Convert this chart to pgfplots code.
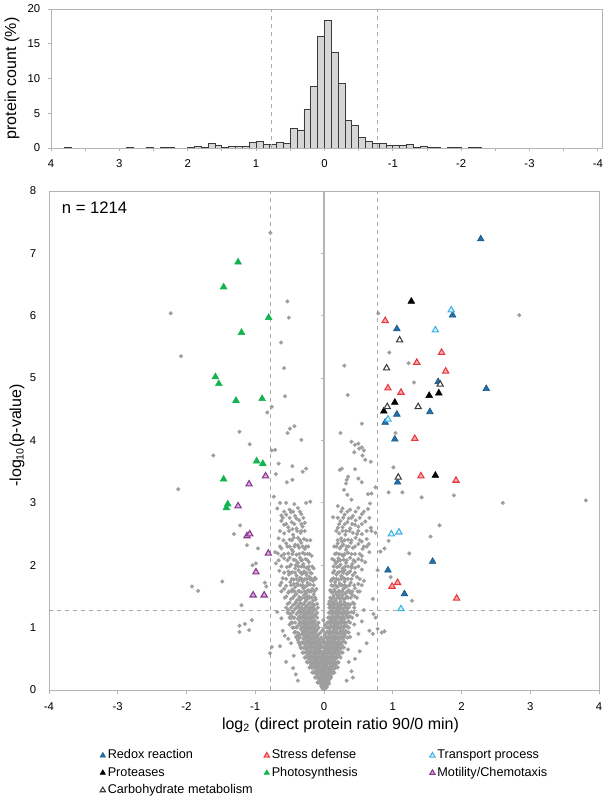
\documentclass[border=0pt]{standalone}
\usepackage{pgfplots}
\pgfplotsset{compat=1.18}
\usepackage{fontspec}
\setmainfont{Liberation Sans}
\definecolor{boxgray}{HTML}{B4B4B4}
\definecolor{dashgray}{HTML}{A8A8A8}
\definecolor{dotgray}{HTML}{9E9E9E}
\definecolor{barfill}{HTML}{D6D6D6}
\definecolor{baredge}{HTML}{3A3A3A}
\definecolor{redox}{HTML}{2171AD}
\definecolor{redoxE}{HTML}{15527F}
\definecolor{stressE}{HTML}{E8373D}
\definecolor{stressF}{HTML}{F7B0B0}
\definecolor{transE}{HTML}{3AB2E6}
\definecolor{transF}{HTML}{E3F4FC}
\definecolor{photo}{HTML}{12B44E}
\definecolor{motE}{HTML}{85398F}
\definecolor{motF}{HTML}{DDA9DF}
\definecolor{carbE}{HTML}{3C3C3C}
\begin{document}
\begin{tikzpicture}
\path[use as bounding box] (0pt,0pt) rectangle (457.5pt,602.25pt);
% ---------------- top histogram ----------------
\begin{axis}[
  at={(38.25pt,491.25pt)}, anchor=south west,
  scale only axis, width=413.25pt, height=104.25pt,
  x dir=reverse, xmin=-4.06, xmax=4, ymin=0, ymax=20,
  xtick={-4,...,4}, minor xtick={-3.5,-2.5,...,3.5},
  ytick={0,5,...,20},
  xtick pos=bottom, ytick pos=left, tick align=outside,
  major tick length=2.5pt, minor tick length=2.5pt,
  tick style={boxgray, line width=0.6pt},
  axis line style={boxgray, line width=0.6pt},
  ticklabel style={font=\fontsize{8.5}{10}\selectfont},
  xticklabel style={yshift=-3pt},
  yticklabel style={xshift=-2pt},
  /pgf/number format/assume math mode=true,
  ylabel={protein count (\%)},
  ylabel style={font=\fontsize{12}{14}\selectfont, at={(axis description cs:-0.071,0.5)}, anchor=center},
]
\addplot[ybar, bar width=0.1, fill=barfill, draw=baredge, line width=0.6pt] coordinates {
(3.75,0.1) (2.85,0.1) (2.55,0.1) (2.35,0.1) (2.25,0.1) (1.95,0.1) (1.85,0.2) (1.75,0.1)
(1.65,0.6) (1.55,0.35) (1.45,0.1) (1.35,0.25) (1.25,0.25) (1.15,0.2) (1.05,0.8) (0.95,0.9)
(0.85,0.5) (0.75,0.5) (0.65,0.8) (0.55,0.7) (0.45,2.8) (0.35,2.6) (0.25,5.5) (0.15,8.8)
(0.05,16.1) (-0.05,18.3) (-0.15,13.7) (-0.25,9.3) (-0.35,4.0) (-0.45,3.2) (-0.55,1.5)
(-0.65,0.9) (-0.75,0.7) (-0.85,0.6) (-0.95,0.4) (-1.05,0.4) (-1.15,0.4) (-1.25,0.5)
(-1.35,0.1) (-1.45,0.3) (-1.55,0.1) (-1.65,0.1) (-1.85,0.1) (-1.95,0.1) (-2.15,0.1) (-2.25,0.1)
};
\addplot[dashgray, dashed, line width=0.5pt] coordinates {(0.78,0) (0.78,20)};
\addplot[dashgray, dashed, line width=0.5pt] coordinates {(-0.78,0) (-0.78,20)};
\end{axis}
% ---------------- volcano plot ----------------
\begin{axis}[
  at={(36.75pt,84.75pt)}, anchor=south west,
  scale only axis, width=412.5pt, height=374.25pt,
  xmin=-4, xmax=4, ymin=0, ymax=8,
  xtick={-4,...,4}, ytick={0,...,8},
  xtick pos=bottom, ytick pos=left, tick align=outside,
  major tick length=3pt,
  x tick style={boxgray, line width=0.6pt},
  y tick style={draw=none},
  axis line style={boxgray, line width=0.6pt},
  ticklabel style={font=\fontsize{8.5}{10}\selectfont},
  xticklabel style={yshift=-3pt},
  yticklabel style={xshift=-3pt},
  /pgf/number format/assume math mode=true,
  xlabel={log\textsubscript{2} (direct protein ratio 90/0 min)},
  xlabel style={font=\fontsize{12}{14}\selectfont, at={(axis description cs:0.53,-0.070)}, anchor=center},
  ylabel={-log\textsubscript{10}(p-value)},
  ylabel style={font=\fontsize{12}{14}\selectfont, at={(axis description cs:-0.058,0.51)}, anchor=center},
  legend columns=3,
  legend cell align=left,
  legend style={at={(axis description cs:0.093,-0.114)}, anchor=north west, draw=none, fill=none,
    inner sep=0pt, outer sep=0pt, font=\fontsize{9.5}{11}\selectfont,
    nodes={text height=7pt, text depth=2pt, inner xsep=1.75pt, inner ysep=2pt}},
  legend image code/.code={\draw[mark repeat=2,mark phase=2,#1] plot coordinates {(0pt,0pt) (3.5pt,0pt) (7pt,0pt)};},
  legend image post style={mark size=2.3pt},
]
% reference lines
\addplot[dashgray, dashed, line width=0.5pt, forget plot] coordinates {(-0.78,0) (-0.78,8)};
\addplot[dashgray, dashed, line width=0.5pt, forget plot] coordinates {(0.77,0) (0.77,8)};
\addplot[dashgray, dashed, line width=0.5pt, forget plot] coordinates {(-4,1.27) (4,1.27)};
\addplot[boxgray, line width=0.8pt, forget plot] coordinates {(0,0) (0,8)};
\pgfplotsinvokeforeach{1,...,8}{\draw[boxgray, line width=0.6pt] (axis cs:0,#1) -- ++(-2.5pt,0pt);}
% all proteins
\addplot[only marks, mark=*, mark size=1.45pt, mark options={fill=dotgray, draw=dotgray, line width=0.2pt}, forget plot] coordinates {
(-0.02,0.02)(0.0,0.01)(0.02,0.03)
(-0.04,0.06)(-0.01,0.05)(0.02,0.07)(0.04,0.05)
(-0.05,0.10)(-0.02,0.11)(0.01,0.09)(0.04,0.10)
(-0.07,0.14)(-0.03,0.15)(0.00,0.13)(0.03,0.14)(0.06,0.15)
(-0.08,0.18)(-0.05,0.19)(-0.01,0.17)(0.02,0.18)(0.05,0.19)(0.08,0.17)
(-0.10,0.22)(-0.06,0.23)(-0.03,0.21)(0.01,0.22)(0.04,0.23)(0.07,0.21)
(-0.11,0.26)(-0.07,0.27)(-0.04,0.25)(0.00,0.26)(0.03,0.27)(0.06,0.25)(0.09,0.26)
(-0.13,0.30)(-0.09,0.31)(-0.05,0.29)(-0.02,0.30)(0.02,0.31)(0.05,0.29)(0.08,0.30)(0.11,0.31)
(-0.12,0.34)(-0.08,0.35)(-0.04,0.33)(0.00,0.34)(0.03,0.35)(0.07,0.33)(0.10,0.34)
(-0.15,0.38)(-0.11,0.39)(-0.07,0.37)(-0.03,0.38)(0.01,0.39)(0.05,0.37)(0.09,0.38)(0.13,0.39)
(-0.16,0.42)(-0.12,0.43)(-0.08,0.41)(-0.04,0.42)(0.00,0.43)(0.04,0.41)(0.08,0.42)(0.12,0.43)(0.15,0.41)
(-0.18,0.46)(-0.13,0.47)(-0.09,0.45)(-0.05,0.46)(-0.01,0.47)(0.03,0.45)(0.07,0.46)(0.11,0.47)(0.14,0.45)
(-0.20,0.50)(-0.15,0.51)(-0.11,0.49)(-0.07,0.50)(-0.03,0.51)(0.02,0.49)(0.06,0.50)(0.10,0.51)(0.14,0.49)(0.17,0.50)
(-0.19,0.54)(-0.14,0.55)(-0.10,0.53)(-0.06,0.54)(-0.02,0.55)(0.03,0.53)(0.07,0.54)(0.12,0.55)(0.16,0.53)
(-0.22,0.58)(-0.17,0.59)(-0.13,0.57)(-0.08,0.58)(-0.04,0.59)(0.01,0.57)(0.05,0.58)(0.09,0.59)(0.13,0.57)(0.18,0.58)
(-0.24,0.62)(-0.19,0.63)(-0.15,0.61)(-0.10,0.62)(-0.06,0.63)(-0.02,0.61)(0.04,0.62)(0.08,0.63)(0.12,0.61)(0.16,0.62)(0.20,0.63)
(-0.23,0.66)(-0.18,0.67)(-0.13,0.65)(-0.09,0.66)(-0.05,0.67)(0.02,0.65)(0.06,0.66)(0.10,0.67)(0.15,0.65)(0.19,0.66)
(-0.26,0.70)(-0.21,0.71)(-0.16,0.69)(-0.12,0.70)(-0.07,0.71)(-0.03,0.69)(0.03,0.70)(0.08,0.71)(0.12,0.69)(0.17,0.70)(0.21,0.71)
(-0.28,0.74)(-0.23,0.75)(-0.18,0.73)(-0.14,0.74)(-0.09,0.75)(-0.05,0.73)(0.05,0.74)(0.10,0.75)(0.14,0.73)(0.19,0.74)(0.23,0.75)
(-0.27,0.78)(-0.22,0.79)(-0.17,0.77)(-0.12,0.78)(-0.07,0.79)(0.04,0.77)(0.08,0.78)(0.13,0.79)(0.17,0.77)(0.22,0.78)
(-0.30,0.82)(-0.25,0.83)(-0.20,0.81)(-0.15,0.82)(-0.10,0.83)(-0.06,0.81)(0.05,0.82)(0.10,0.83)(0.15,0.81)(0.20,0.82)(0.24,0.83)
(-0.29,0.86)(-0.24,0.87)(-0.19,0.85)(-0.14,0.86)(-0.09,0.87)(0.06,0.85)(0.11,0.86)(0.16,0.87)(0.21,0.85)(0.26,0.86)
(-0.32,0.90)(-0.27,0.91)(-0.22,0.89)(-0.17,0.90)(-0.12,0.91)(-0.08,0.89)(0.07,0.90)(0.12,0.91)(0.17,0.89)(0.22,0.90)(0.27,0.91)
(-0.31,0.94)(-0.26,0.95)(-0.21,0.93)(-0.16,0.94)(-0.11,0.95)(0.05,0.93)(0.09,0.94)(0.14,0.95)(0.19,0.93)(0.24,0.94)
(-0.34,0.98)(-0.29,0.99)(-0.24,0.97)(-0.19,0.98)(-0.14,0.99)(-0.10,0.97)(0.08,0.98)(0.13,0.99)(0.18,0.97)(0.23,0.98)(0.28,0.99)
(-0.33,1.02)(-0.28,1.03)(-0.22,1.01)(-0.17,1.02)(-0.12,1.03)(0.06,1.01)(0.11,1.02)(0.16,1.03)(0.21,1.01)(0.26,1.02)(0.31,1.03)
(-0.36,1.06)(-0.30,1.07)(-0.25,1.05)(-0.20,1.06)(-0.15,1.07)(-0.10,1.05)(0.09,1.06)(0.14,1.07)(0.19,1.05)(0.24,1.06)(0.29,1.07)
(-0.35,1.10)(-0.29,1.11)(-0.23,1.09)(-0.18,1.10)(-0.13,1.11)(0.07,1.09)(0.12,1.10)(0.17,1.11)(0.22,1.09)(0.27,1.10)
(-0.38,1.14)(-0.32,1.15)(-0.26,1.13)(-0.21,1.14)(-0.16,1.15)(0.10,1.13)(0.15,1.14)(0.20,1.15)(0.25,1.13)(0.30,1.14)
(-0.36,1.18)(-0.30,1.19)(-0.24,1.17)(-0.19,1.18)(-0.14,1.19)(0.08,1.17)(0.13,1.18)(0.18,1.19)(0.23,1.17)(0.28,1.18)(0.33,1.19)
(-0.40,1.22)(-0.33,1.23)(-0.27,1.21)(-0.22,1.22)(-0.17,1.23)(-0.12,1.21)(0.11,1.22)(0.16,1.23)(0.21,1.21)(0.26,1.22)(0.31,1.23)
(-0.37,1.26)(-0.31,1.27)(-0.25,1.25)(-0.20,1.26)(-0.15,1.27)(0.09,1.25)(0.14,1.26)(0.19,1.27)(0.24,1.25)(0.29,1.26)
(-0.42,1.30)(-0.35,1.31)(-0.29,1.29)(-0.23,1.30)(-0.18,1.31)(-0.13,1.29)(0.12,1.30)(0.17,1.31)(0.22,1.29)(0.27,1.30)(0.33,1.31)
(-0.01,0.80)(0.01,0.88)(-0.02,0.96)(0.02,1.04)(-0.01,1.12)(0.0,0.76)
(-0.25,0.45)(-0.28,0.52)(-0.30,0.60)(-0.33,0.67)(-0.35,0.72)(-0.38,0.80)(-0.40,0.86)(-0.42,0.93)(-0.44,1.00)
(-0.46,1.08)(-0.48,1.15)(-0.50,1.22)(-0.52,1.28)(-0.31,0.76)(-0.36,0.88)(-0.39,1.02)(-0.43,1.16)(-0.45,1.26)
(-0.27,0.66)(-0.24,0.56)(-0.22,0.50)
(0.20,0.45)(0.22,0.55)(0.24,0.66)(0.26,0.72)(0.28,0.80)(0.30,0.88)(0.32,0.95)(0.34,1.02)(0.36,1.10)(0.38,1.18)
(0.40,1.25)(0.27,0.94)(0.30,1.08)(0.33,1.24)(0.25,0.60)
(-0.12,0.20)(0.10,0.22)(-0.15,0.28)(0.13,0.27)(-0.09,0.12)(0.07,0.10)(-0.17,0.35)(0.15,0.34)(-0.19,0.40)(0.17,0.40)
(-0.03,0.04)(0.03,0.04)
(-0.09,0.12)(-0.04,0.12)(0.02,0.12)(0.07,0.12)
(-0.13,0.20)(-0.09,0.20)(-0.04,0.20)(0.0,0.20)(0.05,0.20)(0.10,0.20)
(-0.17,0.28)(-0.13,0.28)(-0.08,0.28)(-0.03,0.28)(0.01,0.28)(0.07,0.28)(0.12,0.28)(0.15,0.28)
(-0.21,0.36)(-0.17,0.36)(-0.10,0.36)(-0.06,0.36)(-0.01,0.36)(0.05,0.36)(0.12,0.36)(0.17,0.36)(0.20,0.36)
(-0.24,0.44)(-0.20,0.44)(-0.14,0.44)(-0.10,0.44)(-0.06,0.44)(-0.02,0.44)(0.02,0.44)(0.06,0.44)(0.10,0.44)(0.17,0.44)(0.21,0.44)
(-0.27,0.52)(-0.23,0.52)(-0.17,0.52)(-0.12,0.52)(-0.08,0.52)(-0.04,0.52)(0.01,0.52)(0.05,0.52)(0.09,0.52)(0.14,0.52)(0.19,0.52)(0.24,0.52)
(-0.31,0.60)(-0.27,0.60)(-0.20,0.60)(-0.14,0.60)(-0.11,0.60)(-0.07,0.60)(0.02,0.60)(0.07,0.60)(0.11,0.60)(0.15,0.60)(0.22,0.60)(0.27,0.60)
(-0.34,0.68)(-0.30,0.68)(-0.25,0.68)(-0.19,0.68)(-0.14,0.68)(-0.10,0.68)(0.0,0.68)(0.05,0.68)(0.09,0.68)(0.14,0.68)(0.20,0.68)(0.25,0.68)(0.29,0.68)
(-0.37,0.76)(-0.33,0.76)(-0.25,0.76)(-0.20,0.76)(-0.15,0.76)(-0.10,0.76)(-0.03,0.76)(0.02,0.76)(0.07,0.76)(0.11,0.76)(0.16,0.76)(0.21,0.76)(0.26,0.76)(0.31,0.76)
(-0.40,0.84)(-0.35,0.84)(-0.27,0.84)(-0.22,0.84)(-0.17,0.84)(-0.12,0.84)(-0.04,0.84)(0.03,0.84)(0.08,0.84)(0.13,0.84)(0.18,0.84)(0.23,0.84)(0.29,0.84)(0.34,0.84)
(-0.43,0.92)(-0.38,0.92)(-0.29,0.92)(-0.24,0.92)(-0.19,0.92)(-0.14,0.92)(-0.05,0.92)(0.03,0.92)(0.10,0.92)(0.15,0.92)(0.20,0.92)(0.25,0.92)(0.31,0.92)(0.36,0.92)
(-0.46,1.00)(-0.40,1.00)(-0.31,1.00)(-0.26,1.00)(-0.21,1.00)(-0.16,1.00)(-0.08,1.00)(0.04,1.00)(0.09,1.00)(0.14,1.00)(0.19,1.00)(0.24,1.00)(0.29,1.00)(0.36,1.00)
(-0.48,1.08)(-0.42,1.08)(-0.33,1.08)(-0.27,1.08)(-0.22,1.08)(-0.17,1.08)(-0.08,1.08)(0.05,1.08)(0.10,1.08)(0.15,1.08)(0.20,1.08)(0.25,1.08)(0.32,1.08)(0.38,1.08)
(-0.50,1.16)(-0.44,1.16)(-0.34,1.16)(-0.28,1.16)(-0.23,1.16)(-0.18,1.16)(-0.10,1.16)(0.06,1.16)(0.11,1.16)(0.17,1.16)(0.22,1.16)(0.27,1.16)(0.35,1.16)(0.41,1.16)
(-0.53,1.24)(-0.46,1.24)(-0.35,1.24)(-0.29,1.24)(-0.24,1.24)(-0.19,1.24)(-0.10,1.24)(0.07,1.24)(0.13,1.24)(0.18,1.24)(0.23,1.24)(0.28,1.24)(0.36,1.24)(0.43,1.24)
(-0.55,1.32)(-0.48,1.32)(-0.40,1.32)(-0.33,1.32)(-0.27,1.32)(-0.21,1.32)(-0.16,1.32)(-0.09,1.32)(0.08,1.32)(0.14,1.32)(0.19,1.32)(0.24,1.32)(0.30,1.32)(0.36,1.32)(0.44,1.32)
(-0.45,1.36)(-0.38,1.34)(-0.31,1.37)(-0.25,1.35)(-0.19,1.33)(-0.14,1.36)
(-0.41,1.41)(-0.34,1.39)(-0.27,1.42)(-0.21,1.40)(-0.16,1.43)
(-0.48,1.46)(-0.39,1.44)(-0.32,1.47)(-0.25,1.45)(-0.18,1.48)
(-0.43,1.51)(-0.36,1.49)(-0.29,1.52)(-0.22,1.50)(-0.15,1.53)
(-0.52,1.56)(-0.40,1.54)(-0.33,1.57)(-0.26,1.55)(-0.19,1.58)
(-0.46,1.61)(-0.37,1.59)(-0.30,1.63)(-0.23,1.60)(-0.17,1.62)
(-0.55,1.67)(-0.42,1.65)(-0.34,1.68)(-0.27,1.66)(-0.20,1.69)
(-0.49,1.73)(-0.39,1.71)(-0.31,1.74)(-0.24,1.72)(-0.16,1.75)
(-0.60,1.79)(-0.44,1.77)(-0.35,1.80)(-0.28,1.78)(-0.21,1.81)
(-0.51,1.85)(-0.40,1.83)(-0.32,1.86)(-0.25,1.84)(-0.18,1.87)
(-0.65,1.91)(-0.46,1.89)(-0.37,1.92)(-0.29,1.90)(-0.22,1.93)
(-0.54,1.97)(-0.42,1.95)(-0.33,1.98)(-0.26,1.96)
(-0.70,2.03)(-0.48,2.01)(-0.38,2.04)(-0.30,2.02)(-0.22,2.05)
(-0.58,2.11)(-0.44,2.09)(-0.35,2.12)(-0.27,2.10)
(-0.52,2.19)(-0.40,2.17)(-0.31,2.20)(-0.24,2.18)
(-0.62,2.27)(-0.47,2.25)(-0.36,2.28)(-0.28,2.26)
(-0.55,2.35)(-0.42,2.33)(-0.33,2.36)
(-0.66,2.43)(-0.50,2.41)(-0.38,2.44)(-0.29,2.42)
(-0.58,2.51)(-0.45,2.49)(-0.34,2.52)
(-0.52,2.61)(-0.40,2.59)(-0.31,2.62)
(-0.62,2.71)(-0.47,2.69)(-0.36,2.72)
(-0.55,2.81)(-0.42,2.79)(-0.33,2.82)
(-0.68,2.91)(-0.50,2.89)(-0.38,2.92)
(-0.50,1.40)(-0.55,1.50)(-0.58,1.62)(-0.12,1.45)(-0.11,1.62)(-0.13,1.80)(-0.62,1.72)(-0.47,1.58)(-0.35,1.44)
(-0.28,1.58)(-0.44,1.70)(-0.36,1.76)(-0.29,1.88)(-0.52,1.90)(-0.41,2.00)(-0.33,2.08)(-0.50,2.12)(-0.62,2.15)
(-0.45,2.22)(-0.26,2.30)(-0.38,2.32)(-0.50,2.30)(-0.44,2.44)(-0.33,2.55)(-0.46,2.58)(-0.58,2.65)(-0.28,2.68)
(-0.40,2.75)(-0.48,2.85)(-0.62,2.80)(-0.20,2.40)(-0.18,2.15)(-0.15,1.95)(-0.24,1.50)(-0.31,1.66)(-0.20,1.77)
(-0.53,1.38)(-0.42,1.38)(-0.36,1.38)(-0.29,1.38)(-0.22,1.38)(-0.17,1.38)(-0.10,1.38)
(-0.57,1.48)(-0.45,1.48)(-0.35,1.48)(-0.28,1.48)(-0.21,1.48)(-0.13,1.48)
(-0.62,1.58)(-0.51,1.58)(-0.43,1.58)(-0.36,1.58)(-0.25,1.58)(-0.21,1.58)(-0.14,1.58)
(-0.64,1.68)(-0.48,1.68)(-0.38,1.68)(-0.31,1.68)(-0.24,1.68)(-0.15,1.68)
(-0.55,1.78)(-0.47,1.78)(-0.40,1.78)(-0.32,1.78)(-0.25,1.78)(-0.18,1.78)(-0.12,1.78)
(-0.58,1.88)(-0.48,1.88)(-0.42,1.88)(-0.34,1.88)(-0.26,1.88)(-0.20,1.88)
(-0.62,1.98)(-0.50,1.98)(-0.37,1.98)(-0.30,1.98)(-0.22,1.98)(-0.17,1.98)
(-0.66,2.08)(-0.53,2.08)(-0.41,2.08)(-0.32,2.08)(-0.24,2.08)
(-0.58,2.18)(-0.46,2.18)(-0.36,2.18)(-0.28,2.18)(-0.21,2.18)
(-0.64,2.30)(-0.53,2.30)(-0.43,2.30)(-0.31,2.30)(-0.23,2.30)
(-0.59,2.40)(-0.47,2.40)(-0.35,2.40)(-0.25,2.40)
(-0.64,2.55)(-0.51,2.55)(-0.39,2.55)(-0.28,2.55)
(-0.55,2.66)(-0.43,2.66)(-0.33,2.66)
(-0.60,2.76)(-0.50,2.76)(-0.30,2.76)
(-0.58,2.86)(-0.45,2.86)(-0.35,2.86)
(0.10,1.35)(0.15,1.37)(0.21,1.34)(0.26,1.36)(0.32,1.35)(0.38,1.37)
(0.13,1.41)(0.19,1.39)(0.24,1.42)(0.30,1.40)
(0.11,1.46)(0.17,1.44)(0.23,1.47)(0.29,1.45)(0.35,1.48)
(0.14,1.51)(0.20,1.49)(0.27,1.52)(0.33,1.50)(0.41,1.53)
(0.12,1.56)(0.18,1.54)(0.25,1.57)(0.31,1.55)
(0.15,1.61)(0.22,1.59)(0.28,1.62)(0.36,1.60)(0.45,1.63)
(0.13,1.67)(0.19,1.65)(0.26,1.68)(0.33,1.66)
(0.16,1.73)(0.23,1.71)(0.30,1.74)(0.39,1.72)
(0.14,1.79)(0.21,1.77)(0.28,1.80)(0.35,1.78)(0.48,1.81)
(0.18,1.85)(0.25,1.83)(0.33,1.86)(0.42,1.84)
(0.15,1.91)(0.22,1.89)(0.30,1.92)(0.38,1.90)(0.55,1.93)
(0.19,1.97)(0.27,1.95)(0.35,1.98)(0.45,1.96)
(0.17,2.03)(0.24,2.01)(0.32,2.04)(0.41,2.02)(0.60,2.05)
(0.21,2.11)(0.29,2.09)(0.38,2.12)(0.50,2.10)
(0.18,2.19)(0.26,2.17)(0.35,2.20)(0.45,2.18)(0.66,2.21)
(0.23,2.27)(0.32,2.25)(0.42,2.28)(0.56,2.26)
(0.20,2.35)(0.28,2.33)(0.39,2.36)(0.50,2.34)
(0.25,2.43)(0.35,2.41)(0.46,2.44)(0.62,2.42)
(0.22,2.51)(0.31,2.49)(0.42,2.52)(0.55,2.50)
(0.27,2.61)(0.38,2.59)(0.50,2.62)(0.68,2.60)
(0.24,2.71)(0.34,2.69)(0.46,2.72)(0.60,2.70)
(0.30,2.81)(0.42,2.79)(0.55,2.82)
(0.27,2.91)(0.38,2.89)(0.50,2.92)(0.64,2.90)
(0.08,1.42)(0.09,1.60)(0.10,1.75)(0.42,1.40)(0.45,1.50)(0.50,1.70)(0.38,1.56)(0.22,1.52)(0.30,1.64)
(0.26,1.90)(0.35,1.88)(0.20,2.06)(0.28,2.15)(0.45,2.06)(0.36,2.30)(0.26,2.38)(0.55,2.38)(0.15,2.30)
(0.32,2.55)(0.45,2.65)(0.20,2.60)(0.36,2.75)(0.48,2.50)(0.12,2.10)(0.40,1.96)(0.55,2.15)(0.62,2.30)
(0.58,1.75)(0.52,1.58)
(0.07,1.38)(0.12,1.38)(0.18,1.38)(0.23,1.38)(0.29,1.38)(0.35,1.38)(0.44,1.38)
(0.09,1.48)(0.14,1.48)(0.20,1.48)(0.26,1.48)(0.32,1.48)(0.39,1.48)(0.48,1.48)
(0.10,1.58)(0.16,1.58)(0.21,1.58)(0.27,1.58)(0.34,1.58)(0.41,1.58)(0.49,1.58)
(0.11,1.68)(0.17,1.68)(0.23,1.68)(0.30,1.68)(0.37,1.68)(0.44,1.68)(0.55,1.68)
(0.12,1.78)(0.18,1.78)(0.25,1.78)(0.31,1.78)(0.40,1.78)(0.52,1.78)
(0.13,1.88)(0.20,1.88)(0.28,1.88)(0.36,1.88)(0.45,1.88)
(0.14,1.98)(0.22,1.98)(0.31,1.98)(0.40,1.98)(0.50,1.98)
(0.15,2.08)(0.24,2.08)(0.33,2.08)(0.43,2.08)(0.55,2.08)
(0.16,2.18)(0.22,2.18)(0.30,2.18)(0.40,2.18)(0.52,2.18)
(0.18,2.30)(0.25,2.30)(0.33,2.30)(0.45,2.30)(0.58,2.30)
(0.20,2.40)(0.30,2.40)(0.40,2.40)(0.52,2.40)
(0.18,2.55)(0.27,2.55)(0.37,2.55)(0.50,2.55)(0.62,2.55)
(0.22,2.66)(0.30,2.66)(0.41,2.66)(0.55,2.66)
(0.20,2.76)(0.28,2.76)(0.40,2.76)(0.52,2.76)(0.66,2.76)
(0.25,2.86)(0.34,2.86)(0.46,2.86)(0.58,2.86)
(0.345,4.73)(0.55,4.27)(0.24,4.12)(0.40,3.98)(0.45,3.93)(0.50,3.95)(0.51,3.87)(0.55,3.89)(0.58,3.84)
(0.44,3.81)(0.56,3.76)(0.60,3.69)(0.68,3.66)(0.26,3.55)(0.23,3.53)(0.45,3.54)(0.35,3.42)(0.33,3.37)
(0.32,3.31)(0.50,3.39)(0.55,3.33)(0.69,3.15)(0.64,3.14)(0.34,3.13)(0.29,3.21)(0.20,2.95)(0.40,3.05)
(0.13,2.77)(0.65,2.34)(0.69,2.55)(0.75,2.52)
(0.295,5.20)(0.79,6.04)(0.95,5.41)(1.23,5.24)(2.84,6.01)(1.31,4.93)(1.04,4.12)(1.01,3.57)(0.94,3.17)
(1.14,3.17)(0.75,3.25)(0.67,2.99)(1.68,2.64)(1.55,2.46)(1.24,2.19)(0.94,2.39)(0.82,2.22)(0.88,2.27)
(0.78,1.92)(1.28,1.43)(0.97,1.81)(0.71,1.46)(0.72,1.22)(0.75,1.16)(0.78,0.98)(0.88,0.94)(0.84,0.92)
(0.71,0.90)(1.89,3.12)(1.42,3.09)(2.60,3.00)(3.81,3.04)
(0.45,0.50)(0.50,0.90)(0.55,1.10)(0.62,0.75)(0.40,0.30)(0.48,1.20)(0.66,0.95)(0.35,0.65)(0.42,0.20)
(0.38,0.85)(0.44,1.05)(0.58,1.28)(0.36,0.45)(0.52,0.62)(0.33,0.15)
(-0.78,7.33)(-0.534,6.23)(-2.23,6.04)(-0.51,5.97)(-0.625,5.57)(-2.08,5.35)(-0.58,5.16)(-0.567,4.71)
(-0.76,4.54)(-0.825,4.45)(-1.23,4.14)(-0.53,4.12)(-0.495,4.19)(-0.43,4.23)(-0.33,4.01)(-1.08,3.94)
(-0.76,3.84)(-0.71,3.85)(-1.61,3.76)(-0.66,3.63)(-0.46,3.59)(-0.31,3.50)(-0.26,3.55)(-0.70,3.46)
(-0.54,3.33)(-0.46,3.37)(-2.12,3.22)(-0.73,3.10)(-0.64,3.00)(-0.55,3.00)(-0.43,2.98)(-0.26,3.00)
(-0.20,3.02)(-1.22,2.64)(-1.31,2.50)(-1.12,2.32)(-0.96,2.27)(-0.71,2.21)(-0.67,2.19)(-1.04,2.00)
(-0.99,2.03)(-0.86,1.72)(-0.84,1.66)(-1.48,1.74)(-1.92,1.66)(-1.83,1.59)(-1.20,1.36)(-1.23,1.03)
(-1.15,1.06)(-1.09,0.96)(-1.05,1.12)(-1.23,0.93)(-0.76,0.69)(-0.785,0.59)
(-0.57,0.87)(-0.52,0.82)(-0.48,0.75)(-0.55,0.45)(-0.45,0.35)(-0.50,1.05)(-0.62,1.15)(-0.68,1.25)
(-0.44,0.55)(-0.41,0.25)(-0.60,0.95)(-0.38,0.15)(-0.47,1.18)(-0.64,0.70)
};
% categories
\addplot[only marks, mark=triangle*, mark size=2.9pt, mark options={fill=redox, draw=redoxE, line width=0.4pt}] coordinates {
(2.28,7.23)(1.87,6.01)(1.06,5.79)(1.66,4.94)(2.36,4.83)(1.06,4.42)(1.54,4.46)(0.89,4.29)(1.03,4.02)
(1.07,3.33)(1.58,2.06)(0.93,1.92)(1.17,1.54)};
\addlegendentry{\makebox[115.5pt][l]{Redox reaction}}
\addplot[only marks, mark=triangle*, mark size=2.7pt, mark options={fill=stressF, draw=stressE, line width=0.8pt}] coordinates {
(0.89,5.92)(1.71,5.41)(1.35,5.25)(1.77,5.11)(0.93,4.84)(1.12,4.77)(1.32,4.03)(1.41,3.43)(1.92,3.36)
(1.07,1.72)(0.99,1.66)(1.93,1.47)};
\addlegendentry{\makebox[116.75pt][l]{Stress defense}}
\addplot[only marks, mark=triangle*, mark size=2.7pt, mark options={fill=transF, draw=transE, line width=0.8pt}] coordinates {
(1.85,6.09)(1.62,5.77)(0.93,4.34)(0.98,2.50)(1.09,2.53)(1.12,1.30)};
\addlegendentry{Transport process}
\addplot[only marks, mark=triangle*, mark size=2.9pt, mark options={fill=black, draw=black, line width=0.4pt}] coordinates {
(1.27,6.23)(1.53,4.72)(1.67,4.76)(1.03,4.61)(0.87,4.47)(1.62,3.44)};
\addlegendentry{\makebox[115.5pt][l]{Proteases}}
\addplot[only marks, mark=triangle*, mark size=2.9pt, mark options={fill=photo, draw=photo, line width=0.4pt}] coordinates {
(-1.25,6.86)(-1.46,6.46)(-0.805,5.97)(-1.20,5.73)(-1.58,5.02)(-1.53,4.91)(-1.28,4.64)(-0.90,4.67)
(-0.98,3.67)(-0.89,3.63)(-1.46,3.38)(-1.40,2.98)(-1.42,2.92)};
\addlegendentry{\makebox[116.75pt][l]{Photosynthesis}}
\addplot[only marks, mark=triangle*, mark size=2.7pt, mark options={fill=motF, draw=motE, line width=0.8pt}] coordinates {
(-0.85,3.43)(-1.09,3.30)(-1.25,2.95)(-1.12,2.47)(-1.08,2.50)(-0.81,2.19)(-0.99,1.89)(-1.03,1.52)(-0.87,1.52)};
\addlegendentry{Motility/Chemotaxis}
\addplot[only marks, mark=triangle*, mark size=2.7pt, mark options={fill=white, draw=carbE, line width=0.8pt}] coordinates {
(1.10,5.61)(0.91,5.16)(1.69,4.90)(0.92,4.54)(1.37,4.54)(1.08,3.41)};
\addlegendentry{Carbohydrate metabolism}
\node[anchor=west, font=\fontsize{12.5}{14}\selectfont, inner sep=0pt] at (rel axis cs:0.023,0.967) {n = 1214};
\end{axis}
\end{tikzpicture}
\end{document}
